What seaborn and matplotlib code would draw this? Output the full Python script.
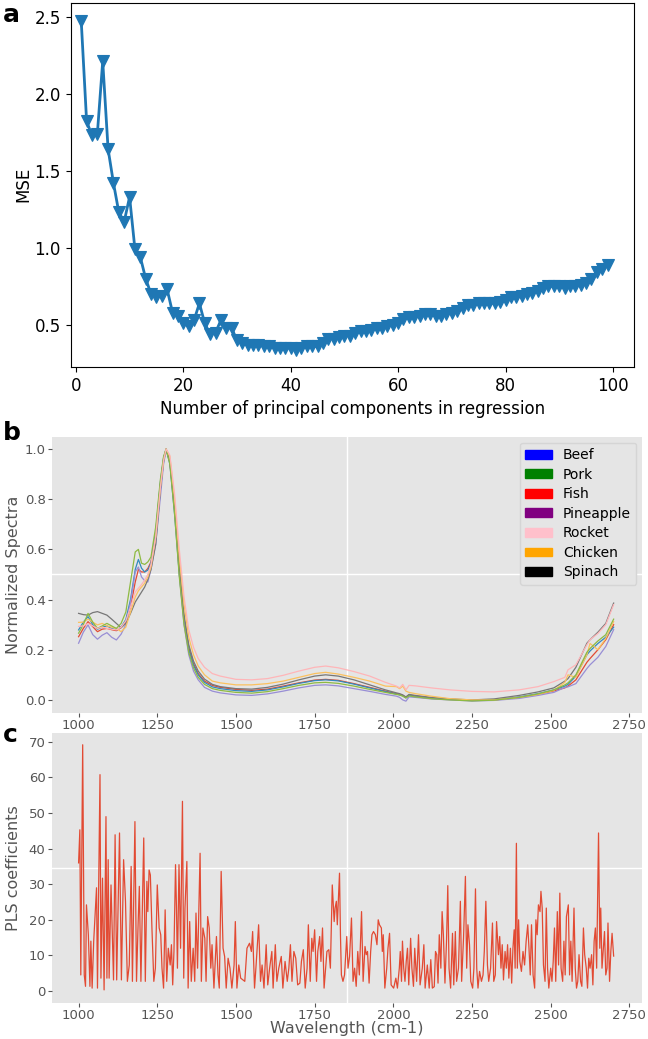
import numpy as np
import pandas as pd
import matplotlib
matplotlib.use('Agg')
import matplotlib.pyplot as plt
import matplotlib.patches as mpatches
import seaborn as sns

# =============================================================================
# DATA
# =============================================================================
# panel a: cross-validated MSE vs number of principal components
n_components = list(range(1, 100))
mse = [2.47, 1.82, 1.73, 1.74, 2.21, 1.64, 1.42, 1.23, 1.17, 1.33,
       0.99, 0.94, 0.80, 0.70, 0.68, 0.69, 0.73, 0.58, 0.56, 0.51,
       0.49, 0.53, 0.64, 0.51, 0.44, 0.45, 0.53, 0.48, 0.48, 0.40,
       0.38, 0.37, 0.37, 0.37, 0.36, 0.36, 0.35, 0.35, 0.35, 0.35,
       0.34, 0.35, 0.36, 0.36, 0.36, 0.38, 0.41, 0.41, 0.42, 0.43,
       0.43, 0.45, 0.46, 0.46, 0.47, 0.48, 0.48, 0.49, 0.50, 0.51,
       0.54, 0.55, 0.55, 0.56, 0.57, 0.57, 0.56, 0.56, 0.57, 0.58,
       0.59, 0.61, 0.63, 0.63, 0.64, 0.64, 0.64, 0.64, 0.65, 0.66,
       0.68, 0.68, 0.69, 0.70, 0.71, 0.72, 0.74, 0.75, 0.75, 0.75,
       0.74, 0.75, 0.75, 0.76, 0.77, 0.80, 0.84, 0.86, 0.89]

# panel b: normalized spectra
wl_b = [1000, 1015, 1030, 1045, 1060, 1075, 1090, 1105, 1120, 1135,
        1150, 1165, 1180, 1190, 1200, 1210, 1220, 1230, 1245, 1260,
        1270, 1278, 1290, 1305, 1320, 1335, 1350, 1365, 1380, 1400,
        1425, 1450, 1500, 1550, 1600, 1650, 1700, 1750, 1785, 1825,
        1875, 1925, 1975, 2010, 2020, 2030, 2040, 2050, 2070, 2120,
        2180, 2250, 2320, 2400, 2460, 2510, 2545, 2555, 2580, 2615,
        2625, 2650, 2675, 2700]

spec_1 = [0.252, 0.285, 0.312, 0.292, 0.272, 0.282, 0.285, 0.280, 0.276, 0.288,
          0.31, 0.37, 0.47, 0.52, 0.51, 0.51, 0.524, 0.55, 0.66, 0.86,
          0.96, 1.0, 0.95, 0.76, 0.52, 0.33, 0.21, 0.145, 0.105, 0.075,
          0.058, 0.05, 0.042, 0.038, 0.043, 0.055, 0.068, 0.079, 0.082, 0.078,
          0.065, 0.05, 0.035, 0.025, 0.022, 0.018, 0.01, 0.02, 0.015, 0.008,
          0.003, -0.002, 0.0, 0.01, 0.022, 0.036, 0.048, 0.055, 0.08, 0.15,
          0.165, 0.2, 0.24, 0.30]
spec_2 = [0.279, 0.31, 0.332, 0.30, 0.282, 0.29, 0.295, 0.285, 0.28, 0.29,
          0.32, 0.40, 0.52, 0.56, 0.525, 0.51, 0.517, 0.545, 0.67, 0.87,
          0.965, 1.0, 0.94, 0.74, 0.50, 0.315, 0.2, 0.138, 0.1, 0.07,
          0.052, 0.045, 0.037, 0.034, 0.04, 0.052, 0.066, 0.077, 0.08, 0.076,
          0.063, 0.048, 0.033, 0.023, 0.02, 0.016, 0.008, 0.018, 0.013, 0.006,
          0.002, -0.003, 0.0, 0.012, 0.025, 0.04, 0.055, 0.062, 0.095, 0.18,
          0.195, 0.225, 0.25, 0.29]
spec_3 = [0.226, 0.27, 0.299, 0.26, 0.242, 0.258, 0.268, 0.25, 0.239, 0.262,
          0.30, 0.39, 0.51, 0.53, 0.49, 0.475, 0.47, 0.52, 0.62, 0.81,
          0.94, 0.995, 0.96, 0.77, 0.50, 0.30, 0.18, 0.115, 0.08, 0.05,
          0.035, 0.028, 0.02, 0.018, 0.024, 0.035, 0.048, 0.058, 0.06, 0.056,
          0.045, 0.034, 0.022, 0.015, 0.01, 0.0, -0.005, 0.012, 0.01, 0.004,
          0.0, -0.004, -0.002, 0.006, 0.018, 0.03, 0.05, 0.052, 0.065, 0.125,
          0.14, 0.17, 0.213, 0.28]
spec_4 = [0.345, 0.34, 0.338, 0.348, 0.352, 0.345, 0.338, 0.322, 0.305, 0.288,
          0.305, 0.345, 0.39, 0.41, 0.43, 0.45, 0.48, 0.52, 0.62, 0.84,
          0.95, 0.998, 0.95, 0.77, 0.53, 0.34, 0.22, 0.155, 0.115, 0.083,
          0.062, 0.053, 0.045, 0.043, 0.05, 0.063, 0.08, 0.095, 0.1, 0.095,
          0.08, 0.06, 0.04, 0.028, 0.025, 0.02, 0.012, 0.022, 0.018, 0.01,
          0.004, 0.0, 0.004, 0.018, 0.032, 0.048, 0.075, 0.085, 0.13, 0.226,
          0.24, 0.27, 0.305, 0.386]
spec_5 = [0.309, 0.31, 0.322, 0.31, 0.299, 0.305, 0.295, 0.29, 0.285, 0.272,
          0.29, 0.35, 0.41, 0.435, 0.45, 0.465, 0.49, 0.53, 0.65, 0.85,
          0.955, 1.0, 0.97, 0.8, 0.57, 0.38, 0.25, 0.18, 0.135, 0.1,
          0.075, 0.068, 0.06, 0.06, 0.065, 0.075, 0.09, 0.105, 0.11, 0.103,
          0.09, 0.075, 0.055, 0.053, 0.045, 0.055, 0.035, 0.03, 0.025, 0.015,
          0.005, 0.0, 0.0, 0.01, 0.022, 0.038, 0.07, 0.1, 0.09, 0.18,
          0.225, 0.2, 0.245, 0.312]
spec_6 = [0.266, 0.3, 0.345, 0.31, 0.285, 0.295, 0.305, 0.295, 0.285, 0.305,
          0.35, 0.47, 0.59, 0.60, 0.545, 0.54, 0.55, 0.57, 0.69, 0.88,
          0.97, 1.0, 0.94, 0.74, 0.49, 0.30, 0.19, 0.128, 0.09, 0.062,
          0.045, 0.038, 0.03, 0.027, 0.033, 0.045, 0.058, 0.068, 0.07, 0.066,
          0.055, 0.042, 0.03, 0.022, 0.02, 0.015, 0.008, 0.016, 0.012, 0.005,
          0.0, -0.004, -0.001, 0.01, 0.024, 0.04, 0.06, 0.068, 0.1, 0.19,
          0.205, 0.235, 0.26, 0.322]
spec_7 = [0.293, 0.295, 0.305, 0.295, 0.285, 0.29, 0.285, 0.282, 0.279, 0.29,
          0.315, 0.37, 0.43, 0.445, 0.46, 0.478, 0.5, 0.54, 0.65, 0.85,
          0.955, 1.0, 0.975, 0.82, 0.6, 0.41, 0.28, 0.21, 0.165, 0.13,
          0.105, 0.095, 0.082, 0.08, 0.085, 0.098, 0.115, 0.13, 0.135, 0.128,
          0.113, 0.095, 0.07, 0.055, 0.048, 0.062, 0.04, 0.058, 0.056, 0.048,
          0.04, 0.034, 0.032, 0.04, 0.053, 0.073, 0.09, 0.12, 0.14, 0.22,
          0.24, 0.265, 0.3, 0.38]

legend_labels = ['Beef', 'Pork', 'Fish', 'Pineapple', 'Rocket', 'Chicken', 'Spinach']
legend_colors = ['blue', 'green', 'red', 'purple', 'pink', 'orange', 'black']

# panel c: PLS coefficients
wl_c = [1000, 1004, 1007, 1013, 1018, 1022, 1025, 1031, 1036, 1039, 1043, 1048, 1052, 1057, 1060,
        1068, 1071, 1076, 1081, 1087, 1090, 1094, 1097, 1103, 1107, 1111, 1116, 1121, 1130, 1136,
        1143, 1149, 1155, 1161, 1167, 1171, 1179, 1184, 1189, 1193, 1198, 1202, 1207, 1212, 1217,
        1220, 1224, 1228, 1233, 1239, 1244, 1250, 1256, 1261, 1265, 1270, 1275, 1280, 1285, 1291,
        1295, 1299, 1303, 1308, 1311, 1314, 1319, 1324, 1330, 1334, 1338, 1344, 1348, 1353, 1358,
        1364, 1369, 1373, 1378, 1386, 1390, 1395, 1401, 1405, 1410, 1415, 1420, 1424, 1430, 1438,
        1443, 1447, 1453, 1459, 1464, 1469, 1475, 1481, 1487, 1494, 1498, 1503, 1509, 1515, 1522,
        1528, 1535, 1543, 1549, 1553, 1559, 1564, 1572, 1578, 1583, 1589, 1596, 1601, 1607, 1614,
        1618, 1625, 1630, 1636, 1644, 1649, 1656, 1663, 1668, 1673, 1678, 1684, 1690, 1696, 1703,
        1708, 1714, 1720, 1726, 1730, 1736, 1741, 1745, 1750, 1756, 1760, 1766, 1770, 1775, 1780,
        1785, 1789, 1795, 1800, 1806, 1812, 1815, 1819, 1822, 1829, 1832, 1835, 1840, 1845, 1852,
        1856, 1861, 1867, 1872, 1877, 1882, 1887, 1892, 1899, 1904, 1910, 1914, 1918, 1923, 1928,
        1932, 1937, 1943, 1948, 1952, 1956, 1962, 1965, 1968, 1973, 1979, 1983, 1988, 1993, 2001,
        2008, 2013, 2019, 2022, 2026, 2029, 2033, 2037, 2041, 2045, 2049, 2055, 2059, 2064, 2068,
        2074, 2080, 2085, 2092, 2097, 2101, 2108, 2114, 2119, 2124, 2130, 2134, 2138, 2142, 2146,
        2151, 2155, 2159, 2164, 2169, 2173, 2177, 2182, 2188, 2192, 2197, 2201, 2207, 2213, 2217,
        2223, 2229, 2233, 2237, 2242, 2246, 2252, 2256, 2261, 2265, 2269, 2274, 2280, 2285, 2289,
        2294, 2299, 2303, 2309, 2315, 2319, 2324, 2328, 2334, 2338, 2342, 2346, 2350, 2355, 2359,
        2363, 2367, 2372, 2376, 2380, 2384, 2387, 2391, 2394, 2398, 2402, 2407, 2412, 2417, 2422,
        2427, 2431, 2435, 2439, 2444, 2449, 2453, 2457, 2461, 2466, 2469, 2473, 2477, 2482, 2486,
        2490, 2494, 2500, 2504, 2508, 2512, 2516, 2521, 2525, 2529, 2533, 2538, 2542, 2546, 2550,
        2556, 2560, 2564, 2568, 2574, 2578, 2582, 2586, 2590, 2595, 2599, 2604, 2608, 2613, 2617,
        2621, 2625, 2630, 2634, 2638, 2642, 2646, 2652, 2656, 2659, 2663, 2668, 2671, 2675, 2679,
        2682, 2687, 2691, 2695, 2700]
coef_c = [36.0, 45.3, 4.5, 69.2, 4.5, 1.3, 24.2, 15.8, 1.3, 14.0, 0.8, 14.0, 20.5, 29.0, 0.8,
          60.8, 3.6, 31.7, 0.3, 49.0, 3.6, 36.9, 3.6, 29.8, 16.7, 3.1, 43.9, 3.1, 44.4, 3.1,
          36.9, 25.2, 2.7, 7.3, 35.0, 2.7, 47.6, 2.7, 18.6, 29.4, 2.7, 20.5, 43.0, 2.7, 30.8,
          22.3, 34.0, 32.6, 17.7, 2.7, 6.4, 29.8, 17.7, 15.8, 6.4, 0.8, 22.8, 2.7, 12.0, 7.3,
          13.0, 1.7, 11.1, 35.5, 23.3, 6.4, 35.5, 12.0, 53.3, 3.6, 23.3, 36.4, 0.8, 19.5, 2.7,
          12.0, 2.7, 21.9, 6.4, 38.7, 2.7, 17.7, 14.8, 2.7, 20.9, 17.7, 6.4, 13.0, 0.8, 15.3,
          4.5, 0.8, 33.6, 12.0, 9.7, 0.8, 9.2, 6.4, 0.8, 7.3, 19.5, 0.8, 7.3, 3.6, 3.1,
          2.7, 12.0, 13.4, 11.1, 16.7, 0.8, 7.3, 18.6, 2.7, 7.3, 0.8, 13.0, 1.7, 6.4, 11.1,
          0.8, 13.0, 2.7, 6.4, 9.7, 0.8, 8.3, 2.7, 6.4, 13.0, 2.7, 11.1, 9.2, 1.7, 2.2,
          8.3, 11.6, 0.8, 6.4, 18.6, 2.7, 14.8, 11.1, 17.2, 2.7, 11.1, 15.3, 8.3, 17.7, 0.8,
          6.4, 11.1, 11.6, 6.4, 29.8, 19.5, 23.3, 25.2, 18.6, 33.1, 15.8, 4.5, 2.7, 4.5, 15.3,
          6.4, 9.7, 20.5, 2.7, 6.4, 1.3, 11.1, 4.5, 22.3, 2.7, 12.5, 10.2, 11.1, 2.2, 11.1,
          15.8, 16.7, 15.8, 13.0, 20.0, 18.6, 17.7, 11.1, 15.8, 0.8, 6.4, 12.0, 16.2, 1.7, 0.8,
          3.6, 0.8, 6.4, 11.1, 2.7, 14.0, 6.4, 2.7, 8.3, 12.0, 1.7, 14.8, 6.4, 1.3, 12.0,
          2.7, 15.8, 1.7, 6.4, 13.0, 0.8, 7.3, 0.8, 8.8, 0.8, 1.2, 11.1, 10.2, 2.2, 15.8,
          6.4, 22.3, 15.8, 2.2, 14.0, 29.6, 6.4, 0.8, 16.2, 1.7, 16.7, 2.7, 6.4, 25.2, 2.7,
          14.8, 32.2, 6.4, 18.6, 13.0, 2.7, 0.8, 6.4, 28.7, 6.4, 0.8, 5.5, 2.7, 4.5, 11.1,
          25.2, 7.3, 2.7, 6.4, 19.1, 2.7, 4.5, 19.5, 10.2, 15.3, 6.4, 13.0, 3.1, 11.1, 6.4,
          13.0, 3.6, 12.0, 2.2, 12.0, 17.2, 6.4, 41.5, 6.4, 20.0, 8.3, 5.5, 11.1, 7.3, 14.0,
          18.6, 12.0, 4.5, 18.6, 4.5, 0.8, 20.0, 15.8, 24.2, 22.3, 28.0, 23.3, 7.3, 2.7, 23.3,
          6.4, 0.8, 6.4, 2.7, 8.3, 17.7, 2.7, 22.3, 7.3, 27.5, 6.4, 2.7, 14.0, 4.5, 20.9,
          24.2, 4.5, 14.0, 2.7, 23.3, 6.4, 0.8, 2.7, 10.2, 2.7, 1.3, 17.7, 10.2, 6.4, 0.8,
          9.2, 6.4, 10.2, 1.7, 14.0, 17.7, 6.4, 44.4, 12.0, 23.3, 6.4, 13.0, 16.7, 4.5, 6.4,
          19.1, 2.7, 11.1, 16.2, 9.8]

# ggplot default colour cycle (used for the spectra lines)
ggplot_cycle = ['#E24A33', '#348ABD', '#988ED5', '#777777', '#FBC15E', '#8EBA42', '#FFB5B8']
GG_BG = '#E5E5E5'
GG_TXT = '#555555'

# =============================================================================
# FIGURE
# =============================================================================
fig = plt.figure(figsize=(6.48, 10.39), dpi=100)
ax_a = fig.add_axes([0.1088, 0.6468, 0.8702, 0.3506])
ax_b = fig.add_axes([0.0800, 0.3138, 0.9107, 0.2656])
ax_c = fig.add_axes([0.0800, 0.0346, 0.9107, 0.2599])

# --- panel a ---
sns.lineplot(x=n_components, y=mse, ax=ax_a, color='#1f77b4', linewidth=2,
             marker='v', markersize=9, markeredgecolor='#1f77b4', markeredgewidth=0.8)
ax_a.set_xlim(-1, 104)
ax_a.set_ylim(0.227, 2.59)
ax_a.set_xticks(range(0, 101, 20))
ax_a.set_yticks([0.5, 1.0, 1.5, 2.0, 2.5])
ax_a.tick_params(labelsize=12)
ax_a.set_xlabel('Number of principal components in regression', fontsize=12)
ax_a.set_ylabel('MSE', fontsize=12)
ax_a.yaxis.set_label_coords(-0.068, 0.5)


def ggplot_axes(ax):
    ax.set_facecolor(GG_BG)
    for s in ax.spines.values():
        s.set_visible(False)
    ax.tick_params(colors=GG_TXT, labelcolor=GG_TXT, labelsize=9.5, direction='out',
                   length=3, pad=1.5)
    ax.set_xlim(915, 2790)
    ax.set_xticks(range(1000, 2751, 250))
    ax.axvline(1852, color='white', linewidth=1, zorder=0.5)


# --- panel b ---
spectra = [spec_1, spec_2, spec_3, spec_4, spec_5, spec_6, spec_7]
df_b = pd.DataFrame({
    'wavelength': wl_b * len(spectra),
    'value': sum(spectra, []),
    'sample': sum([[f's{i}'] * len(wl_b) for i in range(len(spectra))], []),
})
ggplot_axes(ax_b)
ax_b.axhline(0.5, color='white', linewidth=1, zorder=0.5)
sns.lineplot(data=df_b, x='wavelength', y='value', hue='sample', palette=ggplot_cycle,
             linewidth=0.9, legend=False, estimator=None, sort=False, ax=ax_b)
ax_b.set_ylim(-0.052, 1.048)
ax_b.set_yticks([0.0, 0.2, 0.4, 0.6, 0.8, 1.0])
ax_b.set_xlabel('')
ax_b.set_ylabel('Normalized Spectra', fontsize=11.5, color=GG_TXT)
ax_b.yaxis.set_label_coords(-0.052, 0.5)
handles = [mpatches.Patch(color=c, label=l) for l, c in zip(legend_labels, legend_colors)]
ax_b.legend(handles=handles, loc='upper right', fontsize=10, facecolor=GG_BG,
            edgecolor='#D5D5D5', framealpha=1, handlelength=1.9, handleheight=0.6,
            labelspacing=0.4, borderaxespad=0.4)

# --- panel c ---
ggplot_axes(ax_c)
ax_c.axhline(34.6, color='white', linewidth=1, zorder=0.5)
sns.lineplot(x=wl_c, y=coef_c, color='#E24A33', linewidth=0.9, estimator=None, sort=False, ax=ax_c)
ax_c.set_ylim(-3.4, 72.5)
ax_c.set_yticks(range(0, 71, 10))
ax_c.set_xlabel('Wavelength (cm-1)', fontsize=11.5, color=GG_TXT)
ax_c.xaxis.set_label_coords(0.5, -0.068)
ax_c.set_ylabel('PLS coefficients', fontsize=11.5, color=GG_TXT)
ax_c.yaxis.set_label_coords(-0.052, 0.5)

# panel letters
for letter, ypix in [('a', 15), ('b', 433), ('c', 735)]:
    fig.text(0.004, 1 - ypix / 1039, letter, fontsize=18, fontweight='bold',
             ha='left', va='center')

plt.savefig('out.png', dpi=100)
plt.close()
